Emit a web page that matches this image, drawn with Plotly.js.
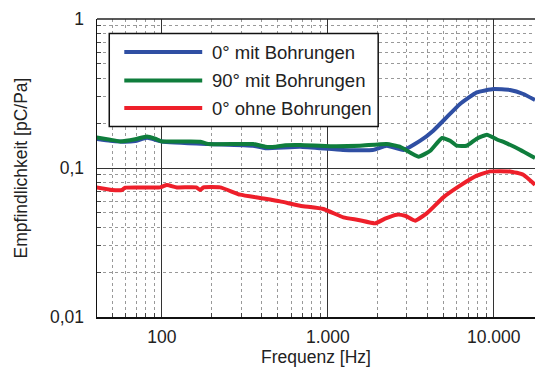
<!DOCTYPE html>
<html>
<head>
<meta charset="utf-8">
<script src="https://cdn.plot.ly/plotly-3.0.1.min.js"></script>
<style>html,body{margin:0;padding:0;background:#fff;}#chart{width:535px;height:367px;}</style>
</head>
<body>
<div id="chart"></div>
<script>
// Frequencies (Hz) and sensitivities (pC/Pa)
const freqBlue = [40, 48.8, 60, 69, 81.2, 100, 190, 355, 420, 681, 1233, 1866, 2265, 2855, 3610, 4322, 5200, 6266, 7907, 9978, 12540, 15080, 17740];
const valBlue  = [0.157, 0.1525, 0.150, 0.1517, 0.1597, 0.1508, 0.1449, 0.1411, 0.1358, 0.139, 0.1321, 0.1321, 0.1411, 0.1321, 0.1525, 0.178, 0.2186, 0.2689, 0.3217, 0.339, 0.3338, 0.3138, 0.286];

const freqGreen = [40, 48.8, 56.1, 69, 81.2, 91, 100, 148, 170, 190, 355, 420, 482, 555, 681, 1036, 1562, 2265, 2715, 3525, 4150, 4878, 5460, 5985, 6867, 7907, 9100, 10400, 12000, 14400, 17740];
const valGreen  = [0.1604, 0.1549, 0.1508, 0.156, 0.1629, 0.1572, 0.1508, 0.1508, 0.1502, 0.1449, 0.1449, 0.139, 0.139, 0.1422, 0.1427, 0.1401, 0.1411, 0.1449, 0.139, 0.1191, 0.1306, 0.159, 0.1525, 0.1411, 0.1411, 0.1573, 0.1673, 0.156, 0.1463, 0.1327, 0.1167];

const freqRed = [40, 50, 57.4, 60.1, 97.7, 107, 123, 161, 170, 178, 224, 296, 391, 516, 681, 941, 1242, 1528, 1928, 2213, 2604, 2922, 3357, 3946, 4969, 6266, 7907, 9505, 12540, 15080, 17740];
const valRed  = [0.0741, 0.0712, 0.0712, 0.0738, 0.0741, 0.0769, 0.0741, 0.0741, 0.0712, 0.0741, 0.0741, 0.0662, 0.0629, 0.0597, 0.0558, 0.0531, 0.0466, 0.0448, 0.0425, 0.0457, 0.0486, 0.0478, 0.0443, 0.0496, 0.0635, 0.0761, 0.0888, 0.0949, 0.0949, 0.0902, 0.0773];

const seriesNames = ['0° mit Bohrungen', '90° mit Bohrungen', '0° ohne Bohrungen'];
const seriesColors = ['#2f4fa3', '#0f7d3c', '#ee1f2a'];

const xMajorVals = [100, 1000, 10000];
const xMajorText = ['100', '1.000', '10.000'];
const xMinorVals = [50,60,70,80,90,200,300,400,500,600,700,800,900,2000,3000,4000,5000,6000,7000,8000,9000];
const yMajorVals = [0.01, 0.1, 1];
const yMajorText = ['0,01', '0,1', '1'];
const yMinorVals = [0.02,0.03,0.04,0.05,0.06,0.07,0.08,0.09,0.2,0.3,0.4,0.5,0.6,0.7,0.8,0.9];

const FONT = 'Liberation Sans, Arial, sans-serif';
const FS = 17.5;

const traces = [
  {x: freqBlue, y: valBlue, name: seriesNames[0], color: seriesColors[0]},
  {x: freqGreen, y: valGreen, name: seriesNames[1], color: seriesColors[1]},
  {x: freqRed, y: valRed, name: seriesNames[2], color: seriesColors[2]}
].map(s => ({
  x: s.x, y: s.y, name: s.name, type: 'scatter', mode: 'lines',
  line: {color: s.color, width: 4, shape: 'spline', smoothing: 0.4},
  showlegend: false, hoverinfo: 'skip'
}));

// Legend drawn as a box with long sample lines and text
const legX0 = 0.028, legX1 = 0.642, legY0 = 0.639, legY1 = 0.951;
const rowY = [0.889, 0.794, 0.701];
const shapes = [
  {type: 'line', xref: 'paper', yref: 'paper', x0: 0, x1: 1, y0: 1, y1: 1, line: {color: '#222', width: 1.5}},
  {type: 'rect', xref: 'paper', yref: 'paper', x0: legX0, x1: legX1, y0: legY0, y1: legY1,
   fillcolor: '#fff', line: {color: '#111', width: 1.5}, layer: 'above'}
];
const annotations = [];
seriesNames.forEach((n, i) => {
  shapes.push({type: 'line', xref: 'paper', yref: 'paper', x0: 0.0623, x1: 0.2402, y0: rowY[i], y1: rowY[i],
    line: {color: seriesColors[i], width: 4}, layer: 'above'});
  annotations.push({xref: 'paper', yref: 'paper', x: 0.259, y: rowY[i], xanchor: 'left', yanchor: 'middle',
    text: n, showarrow: false, font: {family: FONT, size: 18.5, color: '#222'}});
});

const layout = {
  width: 535, height: 367,
  margin: {l: 97, r: 0, t: 19, b: 50},
  paper_bgcolor: '#fff', plot_bgcolor: '#fff',
  font: {family: FONT, size: FS, color: '#222'},
  xaxis: {
    type: 'log', range: [Math.log10(40.6), Math.log10(17740)],
    tickmode: 'array', tickvals: xMajorVals, ticktext: xMajorText,
    showgrid: true, gridcolor: '#333', gridwidth: 1,
    ticks: 'inside', ticklen: 4, tickcolor: '#333',
    showline: true, linecolor: '#111', linewidth: 1.5,
    zeroline: false, ticklabelstandoff: 3,
    minor: {tickmode: 'array', tickvals: xMinorVals, showgrid: true, gridcolor: '#999', griddash: 'dot', gridwidth: 1,
            ticks: 'inside', ticklen: 4, tickcolor: '#444'},
    title: {text: 'Frequenz [Hz]', font: {family: FONT, size: FS, color: '#222'}, standoff: 6}
  },
  yaxis: {
    type: 'log', range: [-2, 0],
    tickmode: 'array', tickvals: yMajorVals, ticktext: yMajorText,
    showgrid: true, gridcolor: '#333', gridwidth: 1,
    ticks: 'inside', ticklen: 4, tickcolor: '#333',
    showline: true, linecolor: '#111', linewidth: 1.5,
    zeroline: false, ticklabelstandoff: 8,
    minor: {tickmode: 'array', tickvals: yMinorVals, showgrid: true, gridcolor: '#999', griddash: 'dot', gridwidth: 1,
            ticks: 'inside', ticklen: 4, tickcolor: '#444'},
    title: {text: 'Empfindlichkeit [pC/Pa]', font: {family: FONT, size: FS, color: '#222'}, standoff: 18}
  },
  shapes: shapes,
  annotations: annotations,
  showlegend: false
};

Plotly.newPlot('chart', traces, layout, {displayModeBar: false, staticPlot: true});
</script>
</body>
</html>
